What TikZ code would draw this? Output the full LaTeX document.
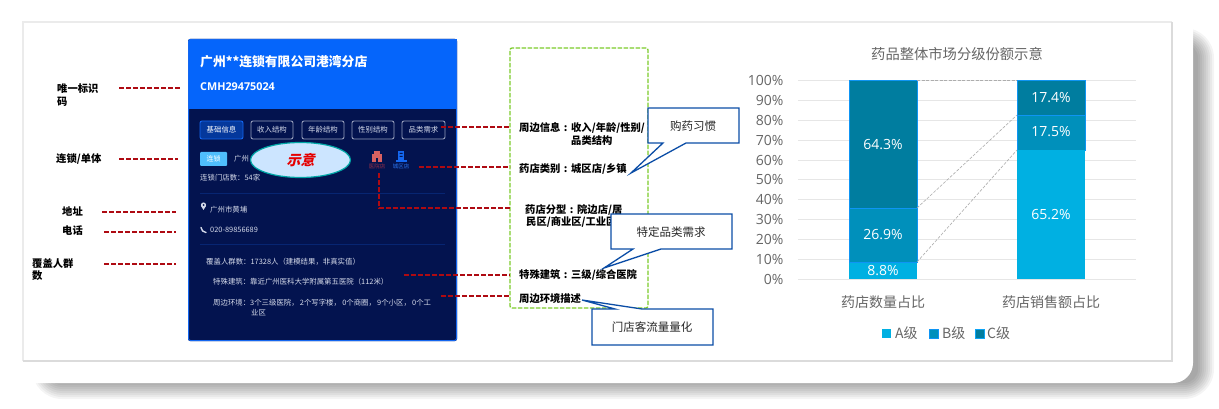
\documentclass[tikz,border=0pt]{standalone}
\usepackage{fontspec}
\usetikzlibrary{shapes.geometric,calc}
\setmainfont{Noto Sans CJK SC}
\newfontfamily\numfont{Open Sans}
\newcommand{\fs}[1]{\fontsize{#1}{#1}\selectfont}
\newcommand{\cln}{\makebox[10.8pt]{:}}
\definecolor{hdrblue}{HTML}{0565FB}
\definecolor{panelnavy}{HTML}{03134F}
\definecolor{lineblue}{HTML}{1467F0}
\definecolor{leader}{HTML}{AE0A12}
\definecolor{callblue}{HTML}{0B4DA6}
\definecolor{dashgreen}{HTML}{7CCB2B}
\definecolor{aclr}{HTML}{00B0E2}
\definecolor{bclr}{HTML}{0090BB}
\definecolor{cclr}{HTML}{007D9F}
\definecolor{gridc}{HTML}{E6E6E6}
\definecolor{txtgray}{HTML}{666666}
\definecolor{paneltxt}{HTML}{D5DAEA}
\tikzset{
  leaderline/.style={draw=leader,line width=1.2pt,dash pattern=on 5pt off 2pt},
  blacklabel/.style={inner sep=0pt,anchor=west,text=black,font=\fs{10.3}\bfseries},
  paneltext/.style={inner sep=0pt,anchor=west,text=paneltxt,font=\fs{7.4}},
  tabbox/.style={draw=#1,line width=.9pt,rounded corners=2pt,minimum height=18pt,inner sep=0pt,text=paneltxt,font=\fs{7.4}},
  tabbox/.default={paneltxt!70!panelnavy},
  callbox/.style={draw=callblue,line width=1.3pt,fill=white,line join=miter},
  calltext/.style={inner sep=0pt,text=black!85,font=\fs{11.5}},
  barval/.style={inner sep=0pt,text=white,font=\numfont\fs{14}},
  axislab/.style={inner sep=0pt,anchor=east,text=txtgray,font=\numfont\fs{14}},
  cattext/.style={inner sep=0pt,text=txtgray,font=\fs{14}},
  barseg/.style={line width=.6pt},
  linkline/.style={draw=black!32,line width=.6pt,dash pattern=on 3pt off 1.5pt},
}
\begin{document}
\begin{tikzpicture}[x=1pt,y=-1pt]
\useasboundingbox (0,0) rectangle (1219,409);
\fill[white] (0,0) rectangle (1219,409);
% card shadow
\foreach \i in {16,14,...,0}{
  \fill[black,opacity=.042,rounded corners={(14+\i)*1pt}]
    ({48-\i},{44-\i}) rectangle ({1198+\i},{383+\i});
}
\fill[white,rounded corners=20pt] (-30,-30) rectangle (1193,383);
% inner frame
\draw[black!8,line width=1.2pt] (23,361) -- (23,22) -- (1172,22);
\draw[black!14,line width=1.2pt] (23,361) -- (1172,361) -- (1172,22);
% store panel
\fill[panelnavy,rounded corners=2pt] (188,39) rectangle (457,341);
\fill[hdrblue] (188.5,39.5) rectangle (456.5,109);
\draw[lineblue,line width=1pt,rounded corners=2pt] (188.5,39.5) rectangle (456.5,340.5);
\node[inner sep=0pt,anchor=west,text=white,font=\fs{12.8}\bfseries] (title) at (200,62) {广州**连锁有限公司港湾分店};
\node[inner sep=0pt,anchor=west,text=white,font=\numfont\fs{10.8}\bfseries] (cmh) at (200,87) {CMH29475024};
\node[tabbox=lineblue,fill=hdrblue!45!panelnavy,minimum width=43pt,text=white] (tab1) at (221.5,130) {基础信息};
\node[tabbox,minimum width=42pt] (tab2) at (272,130) {收入结构};
\node[tabbox,minimum width=42pt] (tab3) at (323,130) {年龄结构};
\node[tabbox,minimum width=42pt] (tab4) at (373,130) {性别结构};
\node[tabbox,minimum width=43pt] (tab5) at (423.5,130) {品类需求};
\node[fill=hdrblue!60!cyan!70!white,rounded corners=1pt,minimum width=27pt,minimum height=14pt,inner sep=0pt,text=white,font=\fs{7}] (badge) at (213.5,159) {连锁};
\node[paneltext] (gz) at (234,159) {广州};
\node[ellipse,draw=teal!70!cyan,line width=1.2pt,fill=blue!50!cyan!20!white,minimum width=100pt,minimum height=35pt,inner sep=0pt] (oval) at (300.5,160) {};
\node[inner sep=0pt,text=red!90!black,font=\fs{14}\bfseries\addfontfeatures{FakeSlant=.25}] (shiyi) at (oval.center) {示意};
% hospital icon
\fill[red!55!white!85!black] (372,154) rectangle (382,162);
\fill[red!55!white!85!black] (374,151.5) rectangle (380,154);
\fill[panelnavy] (376,158) rectangle (378,162);
\node[inner sep=0pt,text=red!50!panelnavy!85!white,font=\fs{5.5}] (hosp) at (377,166) {医院店};
% building icon
\fill[lineblue] (398,151) rectangle (404,160);
\fill[lineblue] (395.5,160) rectangle (406.5,162);
\fill[panelnavy] (399.5,153) rectangle (402.5,154) (399.5,156) rectangle (402.5,157);
\node[inner sep=0pt,text=lineblue!90!white,font=\fs{5.5}] (cityst) at (401,166) {城区店};
\node[paneltext] (chain) at (200,178) {连锁门店数：54家};
\draw[lineblue!22!panelnavy,line width=.5pt] (200,193) -- (445,193) (200,244) -- (445,244);
% pin + phone
\fill[paneltxt] (203.5,205) circle (2.6pt);
\fill[paneltxt] (201.2,206.2) -- (203.5,210) -- (205.8,206.2) -- cycle;
\fill[panelnavy] (203.5,205) circle (1pt);
\node[paneltext] (addr) at (210,210) {广州市黄埔}; 
\draw[paneltxt,line width=1.4pt,line cap=round] (201,227.5) .. controls (201.5,230.5) and (203,232) .. (206,232.5);
\node[paneltext] (tel) at (210,230) {020-89856689};
\node[paneltext] (cov) at (206,262) {覆盖人群数：17328人（建模结果，非真实值）};
\node[paneltext] (spec) at (213,282) {特殊建筑：靠近广州医科大学附属第五医院（112米）};
\node[paneltext] (env1) at (213,303) {周边环境：3个三级医院，\,2个写字楼，\,0个商圈，\,9个小区，\,0个工};
\node[paneltext] (env2) at (251,313) {业区};
% left labels
\node[blacklabel] (l1a) at (57,89) {唯一标识};
\node[blacklabel] (l1b) at (57,102) {码};
\node[blacklabel] (l2) at (56,159) {连锁/单体};
\node[blacklabel] (l3) at (62,211) {地址};
\node[blacklabel] (l4) at (62,231) {电话};
\node[blacklabel] (l5a) at (32,264) {覆盖人群};
\node[blacklabel] (l5b) at (32,276) {数};
\coordinate (a1) at (119,88);  \coordinate (b1) at (181,88);
\coordinate (a2) at (119,159); \coordinate (b2) at (178,159);
\coordinate (a3) at (102,212); \coordinate (b3) at (176,212);
\coordinate (a4) at (104,232); \coordinate (b4) at (176,232);
\coordinate (a5) at (104,264); \coordinate (b5) at (176,264);
\draw[leaderline] (a1) -- (b1);
\draw[leaderline] (a2) -- (b2);
\draw[leaderline] (a3) -- (b3);
\draw[leaderline] (a4) -- (b4);
\draw[leaderline] (a5) -- (b5);
% green box
\node[draw=dashgreen,line width=1.3pt,dash pattern=on 4.5pt off 1.5pt,rounded corners=2pt,minimum width=138pt,minimum height=260pt,inner sep=0pt] (gbox) at (579,178) {};
\coordinate (r1) at (441,127);  \coordinate (g1) at (510,127);
\coordinate (r2) at (419,167);  \coordinate (g2) at (510,167);
\coordinate (r3) at (379,173);  \coordinate (k3) at (379,208); \coordinate (g3) at (510,208);
\coordinate (r4) at (404,275);  \coordinate (g4) at (510,275);
\coordinate (r5) at (441,296);  \coordinate (g5) at (510,296);
\draw[leaderline] (r1) -- (g1);
\draw[leaderline] (r2) -- (g2);
\draw[leaderline] (r3) -- (k3) -- (g3);
\draw[leaderline] (r4) -- (g4);
\draw[leaderline] (r5) -- (g5);
% right labels
\node[blacklabel] (t1a) at (519,128) {周边信息\cln 收入/年龄/性别/};
\node[blacklabel] (t1b) at (571,141) {品类结构};
\node[blacklabel] (t2) at (519,169) {药店类别\cln 城区店/乡镇};
\node[blacklabel] (t3a) at (525,210) {药店分型\cln 院边店/居};
\node[blacklabel] (t3b) at (526,222) {民区/商业区/工业区};
\node[blacklabel] (t4) at (519,275) {特殊建筑\cln 三级/综合医院};
\node[blacklabel] (t5) at (519,299) {周边环境描述};
% callouts
\draw[callbox] (648,108) -- (739,108) -- (739,143) -- (686,143) -- (631,173) -- (663,143) -- (648,143) -- cycle;
\node[calltext] (c1) at (693,126) {购药习惯};
\draw[callbox] (611,214) -- (732,214) -- (732,249) -- (661,249) -- (604,268) -- (633,249) -- (611,249) -- cycle;
\node[calltext] (c2) at (671,232) {特定品类需求};
\draw[callbox] (592,309) -- (615,309) -- (582,300) -- (642,309) -- (713,309) -- (713,345) -- (592,345) -- cycle;
\node[calltext] (c3) at (652,327) {门店客流量量化};
% chart
\node[inner sep=0pt,text=txtgray,font=\fs{14.3}] (ctitle) at (957,54) {药品整体市场分级份额示意};
\foreach \v [count=\k from 0] in {0,10,...,100}{
  \draw[gridc,line width=1pt] (798,{279-19.83*\k}) -- (1136,{279-19.83*\k});
  \node[axislab] (ax\k) at (783.5,{279-19.83*\k}) {\v\%};
}
\filldraw[fill=cclr,draw=lineblue!70!cyan,barseg] (849,80.7) rectangle (917,208);
\filldraw[fill=bclr,draw=lineblue!70!cyan,barseg] (849,208) rectangle (917,262);
\fill[aclr] (849,262) rectangle (917,279);
\draw[lineblue!70!cyan,barseg] (849,262) -- (917,262);
\filldraw[fill=cclr,draw=lineblue!70!cyan,barseg] (1017,80.7) rectangle (1085,115);
\filldraw[fill=bclr,draw=lineblue!70!cyan,barseg] (1017,115) rectangle (1085,150);
\fill[aclr] (1017,150) rectangle (1085,279);
\coordinate (p1) at (917,80.7); \coordinate (q1) at (1017,80.7);
\coordinate (p2) at (917,208);  \coordinate (q2) at (1017,115);
\coordinate (p3) at (917,262);  \coordinate (q3) at (1017,150);
\draw[linkline] (p1) -- (q1);
\draw[linkline] (p2) -- (q2);
\draw[linkline] (p3) -- (q3);
\node[barval] (v1) at (883,145) {64.3\%};
\node[barval] (v2) at (883,235) {26.9\%};
\node[barval] (v3) at (883,271) {8.8\%};
\node[barval] (v4) at (1051,98) {17.4\%};
\node[barval] (v5) at (1051,132) {17.5\%};
\node[barval] (v6) at (1051,215) {65.2\%};
\node[cattext] (cat1) at (883,302) {药店数量占比};
\node[cattext] (cat2) at (1051,302) {药店销售额占比};
\fill[aclr] (882,329) rectangle (891,338);
\filldraw[fill=bclr,draw=lineblue!70!cyan,line width=.5pt] (929,329) rectangle (938,338);
\filldraw[fill=cclr,draw=lineblue!60!cyan,line width=.5pt] (975,329) rectangle (984,338);
\node[cattext,anchor=west] (leg1) at (895,333) {A级};
\node[cattext,anchor=west] (leg2) at (942,333) {B级};
\node[cattext,anchor=west] (leg3) at (987,333) {C级};
\end{tikzpicture}
\end{document}
